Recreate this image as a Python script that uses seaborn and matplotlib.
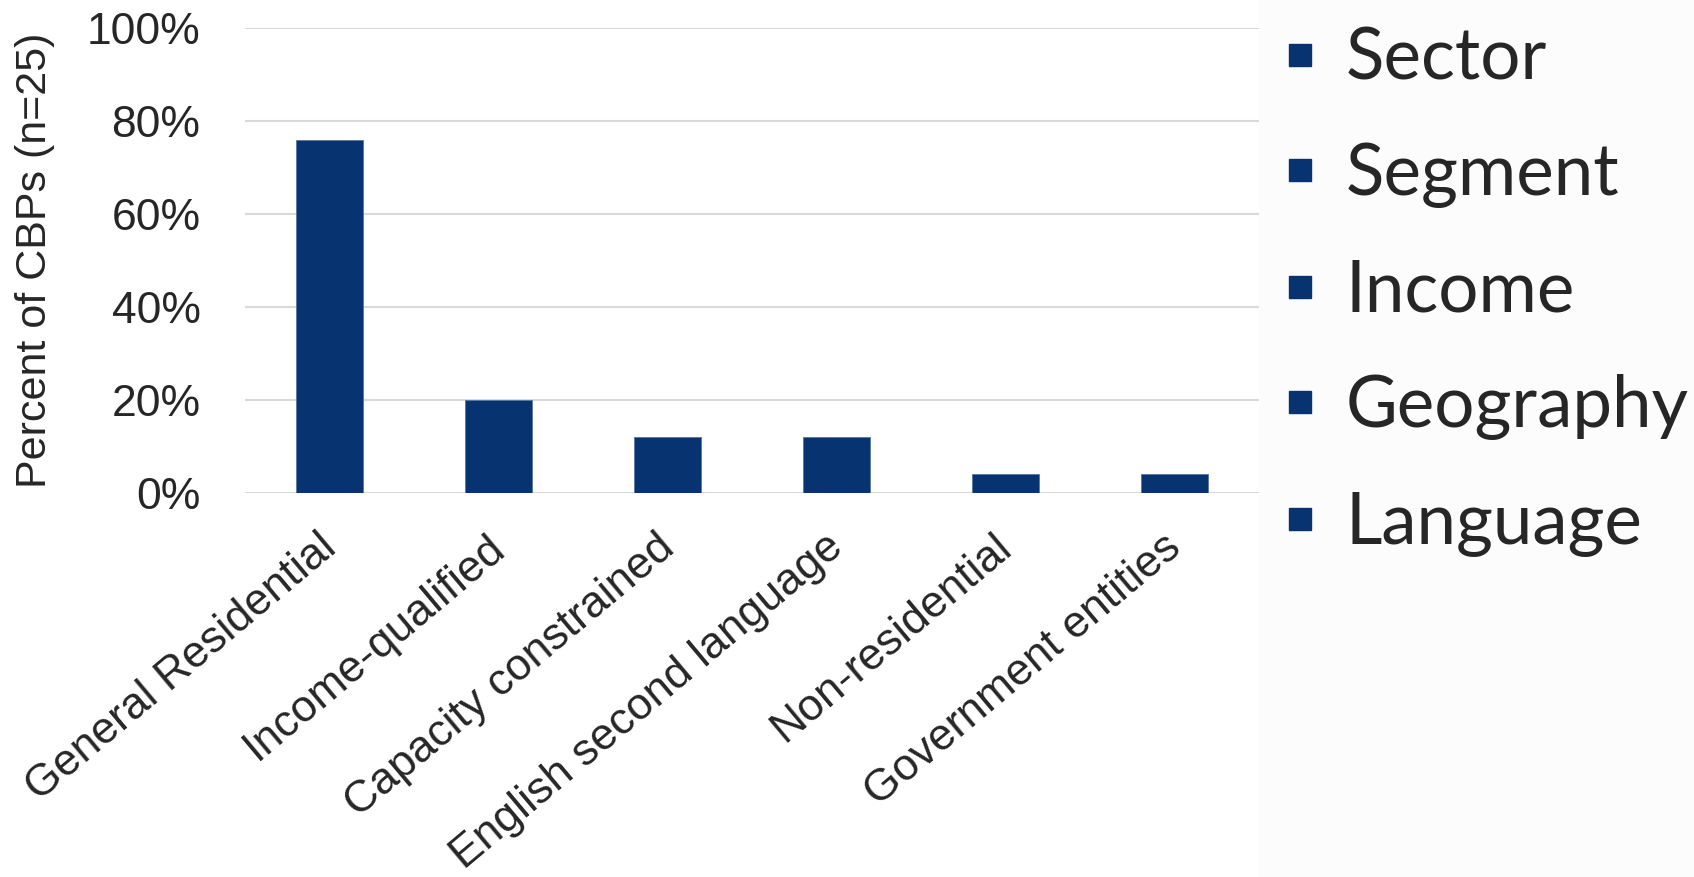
import matplotlib
matplotlib.use("Agg")
import matplotlib.pyplot as plt
from matplotlib.lines import Line2D
from matplotlib.patches import Rectangle
from matplotlib.ticker import PercentFormatter, MultipleLocator
from matplotlib.transforms import ScaledTranslation
import seaborn as sns
import pandas as pd

# Share of community-based partners (n=25) serving each group
categories = ["General Residential", "Income-qualified", "Capacity constrained",
              "English second language", "Non-residential", "Government entities"]
shares = [0.76, 0.20, 0.12, 0.12, 0.04, 0.04]
legend_labels = ["Sector", "Segment", "Income", "Geography", "Language"]

BAR_COLOR = "#073370"
TEXT_COLOR = "#262626"
GRID_COLOR = "#D9D9D9"

sns.set_theme(style="white")
plt.rcParams["font.family"] = ["Liberation Sans", "DejaVu Sans"]

df = pd.DataFrame({"category": categories, "share": shares})

fig = plt.figure(figsize=(16.94, 8.77), dpi=100)
fig.patch.set_facecolor("white")
ax = fig.add_axes([0.1446, 0.4379, 0.7432 - 0.1446, 0.968 - 0.4379])

# light panel behind the legend
fig.add_artist(Rectangle((0.7432, 0), 1 - 0.7432, 1, transform=fig.transFigure,
                         facecolor="#FCFCFC", edgecolor="none", zorder=0))

sns.barplot(data=df, x="category", y="share", color=BAR_COLOR, width=0.4,
            saturation=1, edgecolor="#5577A3", linewidth=0.6, ax=ax, zorder=3)

ax.set_ylim(0, 1)
ax.set_xlim(-0.5, len(categories) - 0.5)
ax.yaxis.set_major_locator(MultipleLocator(0.2))
ax.yaxis.set_major_formatter(PercentFormatter(1.0, decimals=0))
ax.grid(axis="y", color=GRID_COLOR, linewidth=1.5, zorder=0)
ax.set_axisbelow(True)
for s in ax.spines.values():
    s.set_visible(False)

ax.tick_params(axis="both", length=0, colors=TEXT_COLOR)
ax.tick_params(axis="y", pad=32, labelsize=32)
ax.tick_params(axis="x", pad=24, labelsize=32)
ax.set_xlabel("")
ax.set_ylabel("Percent of CBPs (n=25)", fontsize=31, color=TEXT_COLOR, labelpad=23)

shift = ScaledTranslation(-12 / 100, 0, fig.dpi_scale_trans)
for lab in ax.get_xticklabels():
    lab.set_rotation(40)
    lab.set_ha("right")
    lab.set_va("top")
    lab.set_rotation_mode("anchor")
    lab.set_transform(lab.get_transform() + shift)

handles = [Line2D([], [], marker="s", linestyle="", markersize=16,
                  markerfacecolor=BAR_COLOR, markeredgecolor=BAR_COLOR)
           for _ in legend_labels]
leg = fig.legend(handles, legend_labels, loc="upper left",
                 bbox_to_anchor=(0.759, 0.970), frameon=False,
                 prop={"family": ["Lato", "DejaVu Sans"], "size": 51},
                 labelcolor=TEXT_COLOR, handlelength=0.4, handletextpad=0.44,
                 labelspacing=0.715, borderaxespad=0, borderpad=0)

fig.savefig("out.png", dpi=100, facecolor=fig.get_facecolor())
